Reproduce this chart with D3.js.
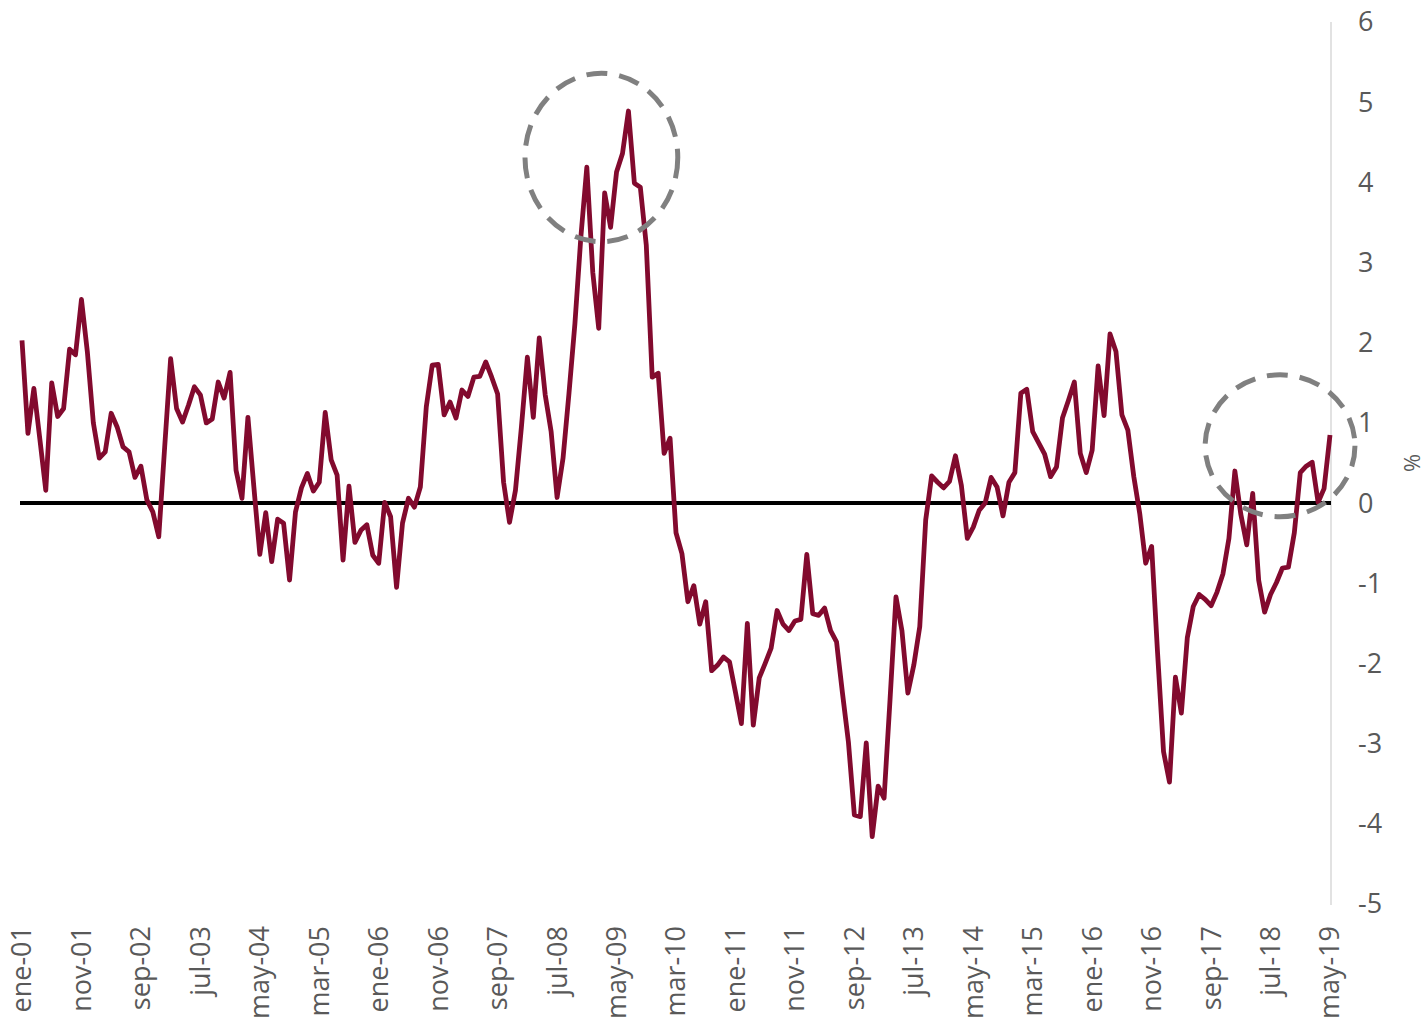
<!DOCTYPE html>
<html>
<head>
<meta charset="utf-8">
<script src="https://cdn.jsdelivr.net/npm/d3@7"></script>
<style>
  html, body { margin: 0; padding: 0; background: #fff; }
  svg { display: block; }
</style>
</head>
<body>
<svg id="chart" width="1428" height="1023"></svg>
<script>
// Monthly series, ene-01 .. may-19 (221 months), %
const values = [
  2.03, 0.87, 1.43, 0.80, 0.16, 1.50, 1.08, 1.18, 1.92, 1.85,
  2.54, 1.88, 1.00, 0.56, 0.64, 1.12, 0.95, 0.70, 0.64, 0.32,
  0.46, 0.04, -0.11, -0.42, 0.70, 1.80, 1.18, 1.01, 1.22, 1.45,
  1.35, 1.00, 1.05, 1.51, 1.31, 1.63, 0.41, 0.06, 1.07, 0.20,
  -0.64, -0.12, -0.73, -0.20, -0.25, -0.96, -0.11, 0.19, 0.37, 0.15,
  0.26, 1.13, 0.54, 0.35, -0.71, 0.21, -0.49, -0.34, -0.27, -0.65,
  -0.75, 0.01, -0.17, -1.05, -0.25, 0.06, -0.05, 0.20, 1.20, 1.72,
  1.73, 1.10, 1.26, 1.06, 1.41, 1.33, 1.57, 1.58, 1.76, 1.57,
  1.36, 0.26, -0.24, 0.16, 0.95, 1.82, 1.07, 2.06, 1.35, 0.89,
  0.07, 0.56, 1.37, 2.24, 3.32, 4.19, 2.88, 2.18, 3.87, 3.44,
  4.13, 4.36, 4.89, 3.99, 3.94, 3.22, 1.57, 1.62, 0.62, 0.81,
  -0.37, -0.63, -1.23, -1.03, -1.51, -1.23, -2.09, -2.02, -1.92, -1.98,
  -2.36, -2.75, -1.50, -2.77, -2.18, -2.00, -1.81, -1.34, -1.51, -1.59,
  -1.47, -1.45, -0.64, -1.38, -1.40, -1.31, -1.59, -1.73, -2.37, -2.98,
  -3.89, -3.91, -2.99, -4.16, -3.53, -3.68, -2.45, -1.17, -1.59, -2.37,
  -2.02, -1.54, -0.21, 0.34, 0.26, 0.19, 0.27, 0.59, 0.22, -0.44,
  -0.30, -0.09, 0.00, 0.32, 0.20, -0.16, 0.26, 0.38, 1.37, 1.42,
  0.89, 0.75, 0.61, 0.33, 0.45, 1.06, 1.28, 1.51, 0.62, 0.38,
  0.66, 1.71, 1.09, 2.11, 1.89, 1.10, 0.91, 0.33, -0.13, -0.75,
  -0.54, -1.87, -3.10, -3.48, -2.17, -2.62, -1.68, -1.29, -1.14, -1.20,
  -1.28, -1.11, -0.88, -0.44, 0.40, -0.14, -0.52, 0.12, -0.96, -1.36,
  -1.14, -0.99, -0.81, -0.80, -0.37, 0.38, 0.46, 0.51, 0.01, 0.18,
  0.85
];

// Category tick labels (every 10 months)
const tickLabels = [
  "ene-01", "nov-01", "sep-02", "jul-03", "may-04", "mar-05", "ene-06",
  "nov-06", "sep-07", "jul-08", "may-09", "mar-10", "ene-11", "nov-11",
  "sep-12", "jul-13", "may-14", "mar-15", "ene-16", "nov-16", "sep-17",
  "jul-18", "may-19"
];
const tickStep = 10;

// Y axis ticks
const yTicks = [6, 5, 4, 3, 2, 1, 0, -1, -2, -3, -4, -5];
const yLabel = "%";

// Highlight ellipses: [index from, index to] x [value low, value high]
const highlightX0 = [84.6, 199.0];
const highlightX1 = [110.3, 224.2];
const highlightY0 = [3.26, -0.17];
const highlightY1 = [5.36, 1.60];

const svg = d3.select("#chart");
const x = d3.scaleLinear().domain([0, values.length - 1]).range([22, 1330]);
const y = d3.scaleLinear().domain([-5, 6]).range([904, 22]);

const font = "'Open Sans', 'Noto Sans', sans-serif";
const textColor = "#595959";

// Right axis line
svg.append("line")
  .attr("x1", 1331).attr("x2", 1331)
  .attr("y1", y(6)).attr("y2", y(-5) + 1)
  .attr("stroke", "#d9d9d9").attr("stroke-width", 1.5);

// Y tick labels
svg.append("g").selectAll("text").data(yTicks).join("text")
  .attr("x", 1358)
  .attr("y", d => y(d))
  .attr("dy", "0.35em")
  .attr("font-family", font)
  .attr("font-size", 27)
  .attr("fill", textColor)
  .text(d => d);

// Y axis title
svg.append("text")
  .attr("transform", `translate(1412, ${y(0.5)}) rotate(-90)`)
  .attr("text-anchor", "middle")
  .attr("dy", "0.35em")
  .attr("font-family", font)
  .attr("font-size", 22)
  .attr("fill", textColor)
  .text(yLabel);

// X tick labels
svg.append("g").selectAll("text").data(tickLabels).join("text")
  .attr("transform", (d, k) => `translate(${x(k * tickStep)}, 926) rotate(-90)`)
  .attr("text-anchor", "end")
  .attr("dy", "0.35em")
  .attr("font-family", font)
  .attr("font-size", 27)
  .attr("fill", textColor)
  .text(d => d);

// Zero line
svg.append("line")
  .attr("x1", 20).attr("x2", 1331)
  .attr("y1", y(0)).attr("y2", y(0))
  .attr("stroke", "#000").attr("stroke-width", 4);

// Series line
const line = d3.line().x((d, i) => x(i)).y(d => y(d));
svg.append("path")
  .datum(values)
  .attr("d", line)
  .attr("fill", "none")
  .attr("stroke", "#820a2e")
  .attr("stroke-width", 4.8)
  .attr("stroke-linejoin", "round");

// Dashed highlight ellipses
svg.append("g").selectAll("ellipse").data(highlightX0).join("ellipse")
  .attr("cx", (d, k) => (x(highlightX0[k]) + x(highlightX1[k])) / 2)
  .attr("cy", (d, k) => (y(highlightY0[k]) + y(highlightY1[k])) / 2)
  .attr("rx", (d, k) => (x(highlightX1[k]) - x(highlightX0[k])) / 2)
  .attr("ry", (d, k) => (y(highlightY0[k]) - y(highlightY1[k])) / 2)
  .attr("fill", "none")
  .attr("stroke", "#808080")
  .attr("stroke-width", 5)
  .attr("stroke-dasharray", "21,12");
</script>
</body>
</html>
